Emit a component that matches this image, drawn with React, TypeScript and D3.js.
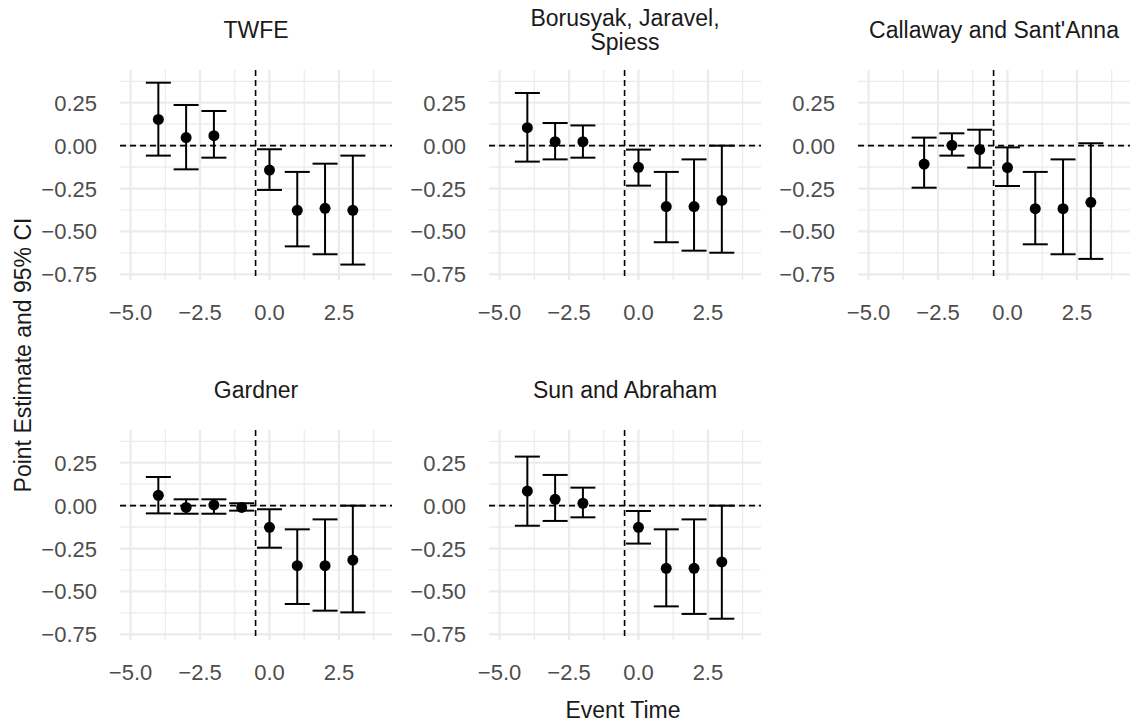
import React from "react";
import * as d3 from "d3";

// event-study estimates
const twfeTime = [-4, -3, -2, 0, 1, 2, 3];
const twfeEst = [0.153, 0.047, 0.058, -0.142, -0.377, -0.365, -0.377];
const twfeLow = [-0.058, -0.138, -0.07, -0.258, -0.587, -0.633, -0.693];
const twfeHigh = [0.367, 0.237, 0.202, -0.021, -0.153, -0.105, -0.058];

const bjsTime = [-4, -3, -2, 0, 1, 2, 3];
const bjsEst = [0.105, 0.023, 0.023, -0.126, -0.355, -0.355, -0.319];
const bjsLow = [-0.093, -0.08, -0.07, -0.233, -0.563, -0.612, -0.624];
const bjsHigh = [0.307, 0.132, 0.118, -0.023, -0.153, -0.08, 0.0];

const csTime = [-3, -2, -1, 0, 1, 2, 3];
const csEst = [-0.107, 0.002, -0.023, -0.128, -0.367, -0.367, -0.33];
const csLow = [-0.245, -0.058, -0.128, -0.235, -0.575, -0.633, -0.66];
const csHigh = [0.047, 0.072, 0.093, -0.01, -0.153, -0.08, 0.014];

const gardnerTime = [-4, -3, -2, -1, 0, 1, 2, 3];
const gardnerEst = [0.06, -0.01, 0.004, -0.01, -0.126, -0.35, -0.35, -0.317];
const gardnerLow = [-0.045, -0.047, -0.047, -0.029, -0.245, -0.573, -0.612, -0.622];
const gardnerHigh = [0.167, 0.037, 0.037, 0.014, -0.021, -0.138, -0.08, 0.0];

const saTime = [-4, -3, -2, 0, 1, 2, 3];
const saEst = [0.085, 0.037, 0.014, -0.126, -0.365, -0.365, -0.328];
const saLow = [-0.117, -0.089, -0.068, -0.221, -0.587, -0.631, -0.659];
const saHigh = [0.286, 0.179, 0.105, -0.031, -0.138, -0.08, 0.0];

const xTicks = [-5, -2.5, 0, 2.5];
const xMinor = [-3.75, -1.25, 1.25, 3.75];
const yTicks = [0.25, 0, -0.25, -0.5, -0.75];
const yMinor = [0.375, 0.125, -0.125, -0.375, -0.625];

const panels = [
  { title: ["TWFE"], time: twfeTime, est: twfeEst, low: twfeLow, high: twfeHigh },
  { title: ["Borusyak, Jaravel,", "Spiess"], time: bjsTime, est: bjsEst, low: bjsLow, high: bjsHigh },
  { title: ["Callaway and Sant'Anna"], time: csTime, est: csEst, low: csLow, high: csHigh },
  { title: ["Gardner"], time: gardnerTime, est: gardnerEst, low: gardnerLow, high: gardnerHigh },
  { title: ["Sun and Abraham"], time: saTime, est: saEst, low: saLow, high: saHigh },
];

const W = 1134;
const H = 726;
const colLeft = [120, 489, 858];
const rowTop = [70, 430];
const pw = 272;
const ph = 210;
const font = "'Liberation Sans', Arial, sans-serif";
const fmt = d3.format(".2f");
const fmtX = d3.format(".1f");

const Panel = ({ p, left, top }: { p: (typeof panels)[number]; left: number; top: number }) => {
  const x = d3.scaleLinear().domain([-5.38, 4.41]).range([left, left + pw]);
  const y = d3.scaleLinear().domain([-0.783, 0.441]).range([top + ph, top]);
  const half = 0.45; // errorbar cap half-width in x units
  const lineY = p.title.length > 1 ? [26, 50] : [38];
  return (
    <g>
      {/* grid */}
      {yMinor.map((v) => (
        <line key={"ym" + v} x1={left} x2={left + pw} y1={y(v)} y2={y(v)} stroke="#EBEBEB" strokeWidth={1.2} />
      ))}
      {xMinor.map((v) => (
        <line key={"xm" + v} x1={x(v)} x2={x(v)} y1={top} y2={top + ph} stroke="#EBEBEB" strokeWidth={1.2} />
      ))}
      {yTicks.map((v) => (
        <line key={"yM" + v} x1={left} x2={left + pw} y1={y(v)} y2={y(v)} stroke="#EBEBEB" strokeWidth={2.2} />
      ))}
      {xTicks.map((v) => (
        <line key={"xM" + v} x1={x(v)} x2={x(v)} y1={top} y2={top + ph} stroke="#EBEBEB" strokeWidth={2.2} />
      ))}

      {/* reference lines */}
      <line x1={left} x2={left + pw} y1={y(0)} y2={y(0)} stroke="#000" strokeWidth={1.6} strokeDasharray="6,4" />
      <line x1={x(-0.5)} x2={x(-0.5)} y1={top} y2={top + ph} stroke="#000" strokeWidth={1.6} strokeDasharray="6,4" />

      {/* error bars */}
      {p.time.map((t, i) => (
        <g key={"e" + i} stroke="#000" strokeWidth={2} fill="none">
          <line x1={x(t)} x2={x(t)} y1={y(p.low[i])} y2={y(p.high[i])} />
          <line x1={x(t - half)} x2={x(t + half)} y1={y(p.low[i])} y2={y(p.low[i])} />
          <line x1={x(t - half)} x2={x(t + half)} y1={y(p.high[i])} y2={y(p.high[i])} />
        </g>
      ))}
      {p.time.map((t, i) => (
        <circle key={"p" + i} cx={x(t)} cy={y(p.est[i])} r={5.5} fill="#000" />
      ))}

      {/* tick labels */}
      {yTicks.map((v) => (
        <text key={"yl" + v} x={left - 23} y={y(v) + 8} textAnchor="end" fontSize={22} fill="#4D4D4D" fontFamily={font}>
          {fmt(v)}
        </text>
      ))}
      {xTicks.map((v) => (
        <text key={"xl" + v} x={x(v)} y={top + ph + 40} textAnchor="middle" fontSize={22} fill="#4D4D4D" fontFamily={font}>
          {fmtX(v)}
        </text>
      ))}

      {/* strip title */}
      {p.title.map((s, i) => (
        <text key={"t" + i} x={left + pw / 2} y={top - 70 + lineY[i]} textAnchor="middle" fontSize={23} fill="#1A1A1A" fontFamily={font}>
          {s}
        </text>
      ))}
    </g>
  );
};

export default function App() {
  return (
    <svg width={W} height={H} style={{ position: "absolute", left: 0, top: 0, background: "#fff" }}>
      <rect width={W} height={H} fill="#fff" />
      {panels.map((p, i) => (
        <Panel key={i} p={p} left={colLeft[i % 3]} top={rowTop[Math.floor(i / 3)]} />
      ))}
      <text x={623} y={718} textAnchor="middle" fontSize={23} fill="#1A1A1A" fontFamily={font}>
        Event Time
      </text>
      <text
        transform={`translate(31,355) rotate(-90)`}
        textAnchor="middle"
        fontSize={23}
        fill="#1A1A1A"
        fontFamily={font}
      >
        Point Estimate and 95% CI
      </text>
    </svg>
  );
}
